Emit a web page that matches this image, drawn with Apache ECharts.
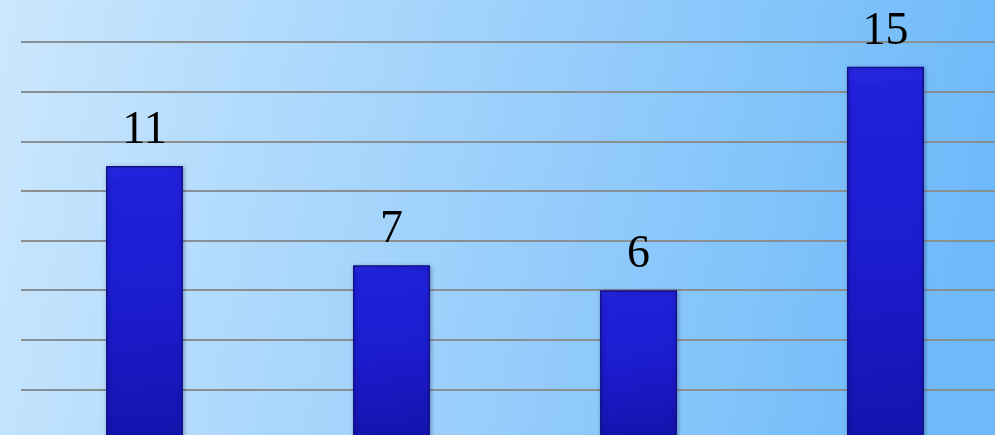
<!DOCTYPE html>
<html>
<head>
<meta charset="utf-8">
<script src="https://cdn.jsdelivr.net/npm/echarts@6/dist/echarts.min.js"></script>
<style>
html,body{margin:0;padding:0;}
#chart{width:995px;height:435px;}
</style>
</head>
<body>
<div id="chart"></div>
<script>
var categories = ['1', '2', '3', '4'];
var values = [11, 7, 6, 15];
var yMin = 0, yMax = 16, yStep = 2;

var chart = echarts.init(document.getElementById('chart'));
chart.setOption({
  backgroundColor: {
    type: 'linear', x: 0, y: 0, x2: 1, y2: 0.5,
    colorStops: [{offset: 0, color: '#cbe7fd'}, {offset: 1, color: '#6db9fa'}]
  },
  animation: false,
  grid: {left: 21, right: -14, top: 42, bottom: -4, containLabel: false, outerBoundsMode: 'none'},
  xAxis: {
    type: 'category', data: categories,
    axisLine: {show: false}, axisTick: {show: false}, axisLabel: {show: false}
  },
  yAxis: {
    type: 'value', min: yMin, max: yMax, interval: yStep,
    axisLine: {show: false}, axisTick: {show: false}, axisLabel: {show: false},
    splitLine: {showMinLine: false, lineStyle: {color: '#8a8f94', width: 2}}
  },
  series: [{
    type: 'bar', data: values, barWidth: 77,
    itemStyle: {
      color: {
        type: 'linear', x: 0, y: 0, x2: 0.3, y2: 1,
        colorStops: [
          {offset: 0, color: '#2a2ae6'},
          {offset: 0.06, color: '#2020da'},
          {offset: 0.5, color: '#1c1cd0'},
          {offset: 1, color: '#1414ae'}
        ]
      },
      borderColor: '#12128a', borderWidth: 1.5,
      shadowColor: 'rgba(0,0,60,0.35)', shadowBlur: 4, shadowOffsetX: 1, shadowOffsetY: 1
    },
    label: {
      show: true, position: 'top', distance: 12,
      fontFamily: 'Liberation Serif', fontSize: 46, color: '#000'
    }
  }]
});
</script>
</body>
</html>
